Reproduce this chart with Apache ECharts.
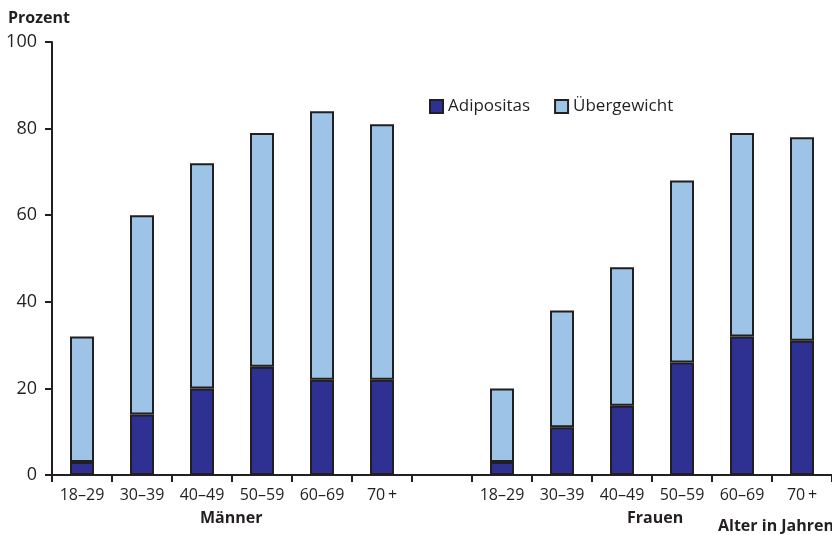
<!DOCTYPE html>
<html>
<head>
<meta charset="utf-8">
<script src="https://cdn.jsdelivr.net/npm/echarts@6/dist/echarts.min.js"></script>
<style>
html,body{margin:0;padding:0;background:#fff;}
#chart{width:832px;height:535px;}
</style>
</head>
<body>
<div id="chart"></div>
<script>
const categories = ['18–29','30–39','40–49','50–59','60–69','70\u2009+','','18–29','30–39','40–49','50–59','60–69','70\u2009+'];
const adipositas = [3,14,20,25,22,22,null,3,11,16,26,32,31];
const uebergewichtTotal = [32,60,72,79,84,81,null,20,38,48,68,79,78];
const yTicks = [0,20,40,60,80,100];
const groupLabels = ['Männer','Frauen'];

const uebergewichtSegment = uebergewichtTotal.map((v,i)=> v==null ? null : v - adipositas[i]);

const FONT = 'Open Sans';
const INK = '#231f20';
const chart = echarts.init(document.getElementById('chart'));
chart.setOption({
  animation:false,
  textStyle:{fontFamily:FONT},
  grid:{left:52,right:0,top:42,bottom:60,containLabel:false},
  legend:{
    left:424, top:93,
    icon:'rect',
    itemWidth:13,itemHeight:13,itemGap:24,
    textStyle:{fontFamily:FONT,fontSize:17,color:INK},
    data:['Adipositas','Übergewicht']
  },
  xAxis:{
    type:'category',
    data:categories,
    axisLine:{lineStyle:{color:INK,width:2}},
    axisTick:{show:true,interval:0,length:7,lineStyle:{color:INK,width:2}},
    axisLabel:{interval:0,fontSize:16,color:INK,margin:12,fontFamily:FONT}
  },
  yAxis:{
    type:'value',min:0,max:100,interval:20,
    axisLine:{show:true,lineStyle:{color:INK,width:2}},
    axisTick:{show:true,length:7,lineStyle:{color:INK,width:2}},
    splitLine:{show:false},
    axisLabel:{fontSize:18,color:INK,margin:15,fontFamily:FONT},
    name:'Prozent',
    nameLocation:'end',
    nameGap:16,
    nameTextStyle:{fontSize:16,fontWeight:'bold',color:INK,align:'left',padding:[0,0,0,-44],fontFamily:FONT}
  },
  graphic:[
    {type:'text',left:200,top:510,style:{text:groupLabels[0],font:'bold 16px "Open Sans"',fill:INK}},
    {type:'text',left:627,top:510,style:{text:groupLabels[1],font:'bold 16px "Open Sans"',fill:INK}},
    {type:'text',left:718,top:518,style:{text:'Alter in Jahren',font:'bold 16px "Open Sans"',fill:INK}}
  ],
  series:[
    {name:'Adipositas',type:'bar',stack:'a',barWidth:'40%',data:adipositas,
     itemStyle:{color:'#2e3192',borderColor:INK,borderWidth:2}},
    {name:'Übergewicht',type:'bar',stack:'a',barWidth:'40%',data:uebergewichtSegment,
     itemStyle:{color:'#9dc3e6',borderColor:INK,borderWidth:2}}
  ]
});
</script>
</body>
</html>
